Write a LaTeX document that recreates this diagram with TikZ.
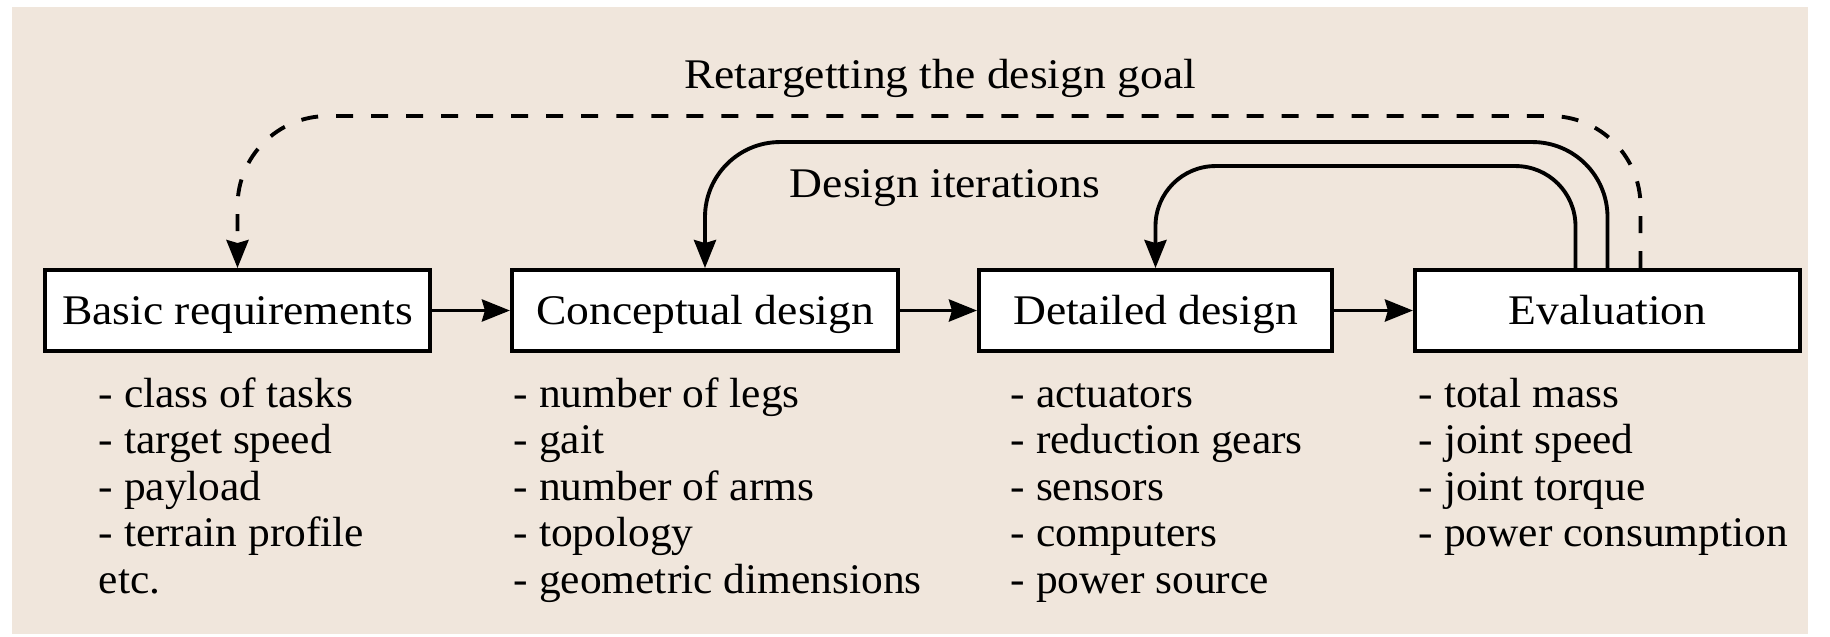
\documentclass[tikz,border=0pt]{standalone}
\usepackage{fontspec}
\setmainfont{Liberation Serif}[FakeStretch=1.08]
\newfontfamily\itemfont{Liberation Serif}[FakeStretch=1.03]
\usetikzlibrary{arrows.meta,positioning}
\definecolor{paper}{RGB}{240,230,220}

\begin{document}
\begin{tikzpicture}[x=0.01cm,y=-0.01cm,
		stage/.style={shape=rectangle,draw,fill=white,line width=1.1pt,minimum height=0.81cm,inner sep=0pt,
			font=\fontsize{12pt}{14pt}\selectfont,text height=10.2pt,text depth=2.3pt},
		caption/.style={anchor=base,inner sep=0pt,font=\fontsize{12pt}{14pt}\selectfont},
		item/.style={anchor=base west,inner sep=0pt,font=\fontsize{12pt}{14pt}\itemfont},
		flow/.style={-{Stealth[length=0.28cm,width=0.22cm,inset=0.03cm]},line width=1.1pt}]
		\useasboundingbox (0,0) rectangle (1830,636);
		\fill [paper] (12,7) rectangle (1808,634);
		\node (basic) at (237.5,310.5) [stage,minimum width=3.85cm] {Basic requirements};
		\node (concept) at (705,310.5) [stage,minimum width=3.86cm] {Conceptual design};
		\node (detail) at (1155.5,310.5) [stage,minimum width=3.53cm] {Detailed design};
		\node (eval) at (1607.5,310.5) [stage,minimum width=3.85cm] {Evaluation};
		\draw [flow] (basic) -- (concept);
		\draw [flow] (concept) -- (detail);
		\draw [flow] (detail) -- (eval);
		\draw [flow,rounded corners=0.6cm] ([xshift=-0.32cm]eval.north) -- ++(0,-102) -| (detail.north);
		\draw [flow,rounded corners=0.75cm] (eval.north) -- ++(0,-126) -| (concept.north);
		\draw [flow,dash pattern=on 0.17cm off 0.18cm,rounded corners=0.9cm] ([xshift=0.33cm]eval.north) -- ++(0,-152) -| (basic.north);
		\node (retarget) at (940,88) [caption] {Retargetting the design goal};
		\node (iterations) at (945,197) [caption] {Design iterations};
		\foreach \txt [count=\i] in {- class of tasks,- target speed,- payload,- terrain profile,etc.}
			\node (basic\i) at (98,{407+46.5*(\i-1)}) [item] {\txt};
		\foreach \txt [count=\i] in {- number of legs,- gait,- number of arms,- topology,- geometric dimensions}
			\node (concept\i) at (513,{407+46.5*(\i-1)}) [item] {\txt};
		\foreach \txt [count=\i] in {- actuators,- reduction gears,- sensors,- computers,- power source}
			\node (detail\i) at (1010,{407+46.5*(\i-1)}) [item] {\txt};
		\foreach \txt [count=\i] in {- total mass,- joint speed,- joint torque,- power consumption}
			\node (eval\i) at (1418,{407+46.5*(\i-1)}) [item] {\txt};
	\end{tikzpicture}
\end{document}
